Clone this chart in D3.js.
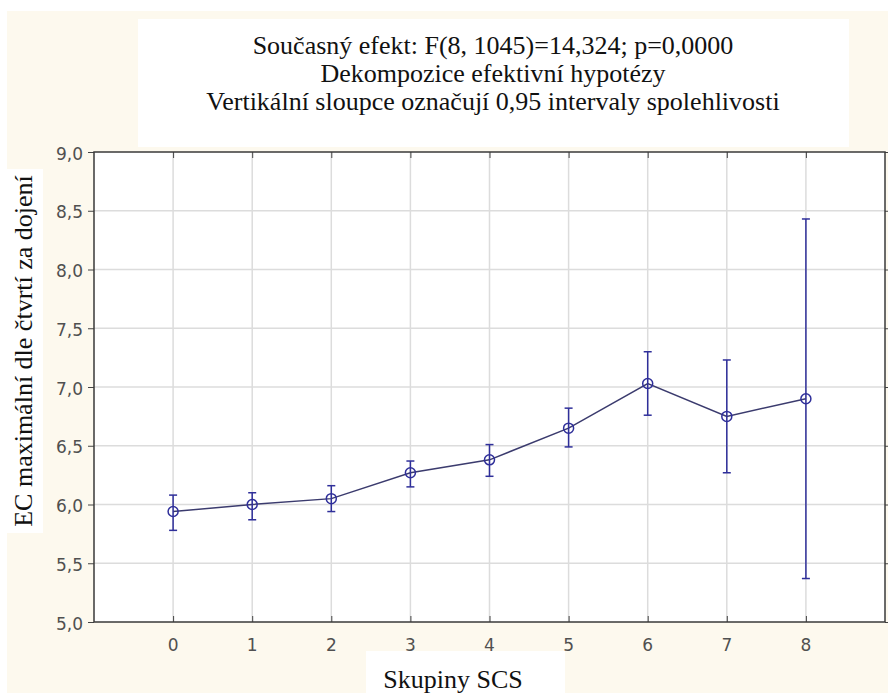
<!DOCTYPE html>
<html lang="cs">
<head>
  <meta charset="UTF-8">
  <title>EC maximální dle čtvrtí za dojení</title>
  <script src="https://d3js.org/d3.v7.min.js"></script>
  <style>
    body {
      margin: 0;
      background: #ffffff;
    }

    svg {
      display: block;
    }

    .grid line {
      stroke: #dcdcdc;
      stroke-width: 1.5px;
    }

    .tick-label {
      font-family: "DejaVu Sans", sans-serif;
      font-size: 17px;
      fill: #505050;
    }

    .caption {
      font-family: "Liberation Serif", "Times New Roman", serif;
      font-size: 26px;
      fill: #111;
    }
  </style>
</head>
<body>
  <div id="chart"></div>
  <script>
    // SCS groups and the mean with its 0.95 confidence interval
    const groups = [0, 1, 2, 3, 4, 5, 6, 7, 8];
    const means = [5.94, 6.00, 6.05, 6.27, 6.38, 6.65, 7.03, 6.75, 6.90];
    const lower = [5.78, 5.87, 5.94, 6.15, 6.24, 6.49, 6.76, 6.27, 5.37];
    const upper = [6.08, 6.10, 6.16, 6.37, 6.51, 6.82, 7.30, 7.23, 8.43];
    const yTicks = [5.0, 5.5, 6.0, 6.5, 7.0, 7.5, 8.0, 8.5, 9.0];

    const titleLines = [
      "Současný efekt: F(8, 1045)=14,324; p=0,0000",
      "Dekompozice efektivní hypotézy",
      "Vertikální sloupce označují 0,95 intervaly spolehlivosti"
    ];
    const xTitle = "Skupiny SCS";
    const yTitle = "EC maximální dle čtvrtí za dojení";

    const width = 888,
          height = 694,
          plot = { left: 94, right: 885, top: 152, bottom: 622 };

    const cs = d3.formatLocale({ decimal: ",", thousands: " ", grouping: [3], currency: ["", " Kč"] });
    const fmt = cs.format(".1f");

    const svg = d3.select("#chart")
      .append("svg")
      .attr("width", width)
      .attr("height", height);

    // cream page with a thin white edge on top and left
    svg.append("rect")
      .attr("x", 7).attr("y", 11)
      .attr("width", width - 7).attr("height", height - 12)
      .attr("fill", "#fdf9ee");

    const x = d3.scaleLinear().domain([-1, 9]).range([plot.left, plot.right]);
    const y = d3.scaleLinear().domain([5, 9]).range([plot.bottom, plot.top]);

    // plot area
    svg.append("rect")
      .attr("x", plot.left).attr("y", plot.top)
      .attr("width", plot.right - plot.left)
      .attr("height", plot.bottom - plot.top)
      .attr("fill", "#ffffff");

    const grid = svg.append("g").attr("class", "grid");
    grid.selectAll(".gy")
      .data(yTicks.slice(1, -1))
      .enter().append("line")
      .attr("x1", plot.left).attr("x2", plot.right)
      .attr("y1", d => y(d)).attr("y2", d => y(d));
    grid.selectAll(".gx")
      .data(groups)
      .enter().append("line")
      .attr("x1", d => x(d)).attr("x2", d => x(d))
      .attr("y1", plot.top).attr("y2", plot.bottom);

    // axes: x ticks point inward, y ticks outward
    svg.append("g")
      .attr("transform", `translate(0,${plot.bottom})`)
      .call(d3.axisTop(x).tickValues(groups).tickSize(6).tickFormat(""))
      .call(g => g.select(".domain").remove())
      .call(g => g.selectAll("line").attr("stroke", "#444"));
    svg.append("g")
      .attr("transform", `translate(0,${plot.top})`)
      .call(d3.axisBottom(x).tickValues(groups).tickSize(6).tickFormat(""))
      .call(g => g.select(".domain").remove())
      .call(g => g.selectAll("line").attr("stroke", "#444"));
    svg.append("g")
      .attr("transform", `translate(${plot.left},0)`)
      .call(d3.axisLeft(y).tickValues(yTicks).tickSize(6).tickFormat(""))
      .call(g => g.select(".domain").remove())
      .call(g => g.selectAll("line").attr("stroke", "#444"));
    svg.append("g")
      .attr("transform", `translate(${plot.right},0)`)
      .call(d3.axisRight(y).tickValues(yTicks).tickSize(6).tickFormat(""))
      .call(g => g.select(".domain").remove())
      .call(g => g.selectAll("line").attr("stroke", "#444"));

    svg.append("rect")
      .attr("x", plot.left).attr("y", plot.top)
      .attr("width", plot.right - plot.left)
      .attr("height", plot.bottom - plot.top)
      .attr("fill", "none")
      .attr("stroke", "#3a3a3a")
      .attr("stroke-width", 1.5);

    svg.selectAll(".ylab")
      .data(yTicks)
      .enter().append("text")
      .attr("class", "tick-label")
      .attr("x", plot.left - 11)
      .attr("y", d => y(d) + 7.5)
      .attr("text-anchor", "end")
      .text(d => fmt(d));

    svg.selectAll(".xlab")
      .data(groups)
      .enter().append("text")
      .attr("class", "tick-label")
      .attr("x", d => x(d))
      .attr("y", plot.bottom + 29)
      .attr("text-anchor", "middle")
      .text(d => d);

    // series
    const pts = groups.map((g, i) => ({ g, m: means[i], lo: lower[i], hi: upper[i] }));

    svg.append("path")
      .datum(pts)
      .attr("fill", "none")
      .attr("stroke", "#3b3b6e")
      .attr("stroke-width", 1.5)
      .attr("d", d3.line().x(d => x(d.g)).y(d => y(d.m)));

    const bars = svg.append("g")
      .attr("stroke", "#2f2f9a")
      .attr("stroke-width", 1.5)
      .attr("fill", "none");

    bars.selectAll(".whisker")
      .data(pts)
      .enter().append("line")
      .attr("x1", d => x(d.g)).attr("x2", d => x(d.g))
      .attr("y1", d => y(d.lo)).attr("y2", d => y(d.hi));
    bars.selectAll(".capHi")
      .data(pts)
      .enter().append("line")
      .attr("x1", d => x(d.g) - 4).attr("x2", d => x(d.g) + 4)
      .attr("y1", d => y(d.hi)).attr("y2", d => y(d.hi));
    bars.selectAll(".capLo")
      .data(pts)
      .enter().append("line")
      .attr("x1", d => x(d.g) - 4).attr("x2", d => x(d.g) + 4)
      .attr("y1", d => y(d.lo)).attr("y2", d => y(d.lo));
    bars.selectAll("circle")
      .data(pts)
      .enter().append("circle")
      .attr("cx", d => x(d.g))
      .attr("cy", d => y(d.m))
      .attr("r", 5);

    // title box
    svg.append("rect")
      .attr("x", 138).attr("y", 19)
      .attr("width", 711).attr("height", 128)
      .attr("fill", "#ffffff");
    svg.selectAll(".title")
      .data(titleLines)
      .enter().append("text")
      .attr("class", "caption")
      .attr("x", 493)
      .attr("y", (d, i) => 54 + i * 28)
      .attr("text-anchor", "middle")
      .text(d => d);

    // x title box
    svg.append("rect")
      .attr("x", 366).attr("y", 651)
      .attr("width", 199).attr("height", 43)
      .attr("fill", "#ffffff");
    svg.append("text")
      .attr("class", "caption")
      .attr("x", 453)
      .attr("y", 688)
      .attr("text-anchor", "middle")
      .text(xTitle);

    // y title box
    svg.append("rect")
      .attr("x", 7).attr("y", 169)
      .attr("width", 36).attr("height", 364)
      .attr("fill", "#ffffff");
    svg.append("text")
      .attr("class", "caption")
      .attr("transform", "translate(32,351) rotate(-90)")
      .attr("text-anchor", "middle")
      .text(yTitle);
  </script>
</body>
</html>
